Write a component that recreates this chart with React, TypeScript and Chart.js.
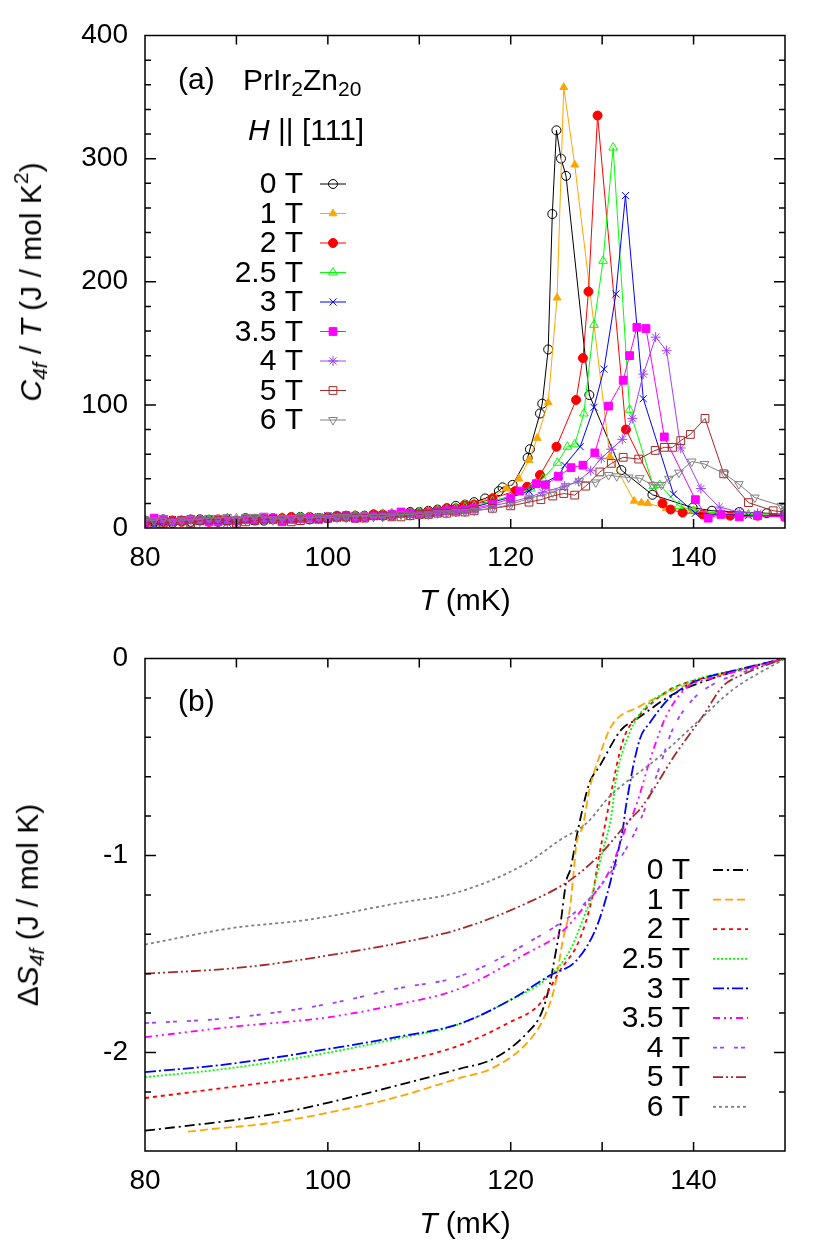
import { useEffect, useRef } from 'react';
import type { CSSProperties } from 'react';
import { Chart, registerables } from 'chart.js';
import { drawPoint } from 'chart.js/helpers';

Chart.register(...registerables);

const FONT = '"Liberation Sans", Arial, Helvetica, sans-serif';
const TICK_FS = 28;
const TEXT_FS = 30;

// field labels and colours shared by both panels
const fieldLabels = ['0 T', '1 T', '2 T', '2.5 T', '3 T', '3.5 T', '4 T', '5 T', '6 T'];
const fieldColors = ['#000000', '#ffa500', '#ff0000', '#00ff00', '#0000ff', '#ff00ff', '#a040ff', '#a52a2a', '#808080'];

// (a) C4f/T, low-temperature tail sampled every 1 mK (80..116 mK)
const lowT = [80, 81, 82, 83, 84, 85, 86, 87, 88, 89, 90, 91, 92, 93, 94, 95, 96, 97, 98, 99, 100, 101, 102, 103, 104, 105, 106, 107, 108, 109, 110, 111, 112, 113, 114, 115, 116];
const low0T = [6, 5, 7, 4, 6, 5, 7, 6, 5, 7, 6, 8, 7, 6, 8, 7, 8, 9, 7, 8, 8, 9, 10, 9, 10, 11, 10, 11, 12, 13, 13, 14, 15, 16, 18, 19, 21];
const low1T = [5, 6, 4, 7, 5, 6, 6, 7, 5, 6, 7, 6, 8, 7, 7, 9, 8, 7, 9, 8, 9, 8, 9, 11, 10, 10, 12, 11, 12, 12, 13, 14, 15, 16, 17, 19, 20];
const low2T = [4, 6, 5, 6, 5, 7, 6, 5, 7, 6, 6, 7, 6, 8, 7, 8, 9, 8, 9, 8, 9, 10, 9, 10, 9, 11, 11, 10, 12, 12, 12, 13, 14, 16, 16, 18, 19];
const low25T = [6, 5, 6, 5, 6, 6, 5, 7, 5, 8, 8, 6, 7, 8, 8, 7, 7, 9, 9, 8, 9, 8, 9, 10, 10, 10, 11, 12, 11, 12, 13, 13, 14, 15, 16, 17, 18];
const low3T = [5, 3, 5, 7, 6, 5, 6, 7, 6, 4, 5, 7, 8, 6, 7, 7, 8, 7, 8, 9, 10, 8, 9, 10, 9, 10, 10, 11, 12, 11, 12, 12, 13, 14, 15, 16, 17];
const low35T = [4, 8, 7, 5, 6, 7, 6, 5, 5, 6, 6, 7, 7, 8, 8, 6, 7, 8, 8, 7, 8, 9, 10, 8, 9, 10, 10, 11, 13, 12, 11, 12, 13, 14, 14, 15, 16];
const low4T = [6, 5, 4, 5, 6, 7, 5, 6, 6, 4, 5, 6, 7, 6, 6, 7, 8, 7, 7, 8, 9, 8, 8, 9, 10, 9, 10, 11, 11, 10, 12, 12, 12, 13, 14, 14, 15];
const low5T = [5, 2, 4, 5, 6, 4, 6, 7, 7, 6, 4, 5, 6, 7, 7, 5, 5, 6, 7, 8, 8, 9, 9, 8, 8, 10, 10, 9, 9, 10, 11, 11, 12, 12, 13, 13, 14];
const low6T = [7, 6, 8, 5, 6, 7, 7, 8, 8, 9, 7, 9, 9, 10, 7, 8, 8, 9, 8, 9, 8, 9, 9, 10, 10, 9, 9, 10, 11, 11, 10, 11, 12, 12, 13, 13, 14];

// (a) transition region  [T (mK), C/T (J/mol K^2)]
const peak0T = [[117.2, 24], [118.7, 30], [119.1, 33], [120.2, 35], [121.85, 57], [122.1, 64], [123.2, 93], [123.45, 101], [124.1, 145], [124.55, 255], [125.0, 323], [125.5, 300], [126.05, 286], [128.6, 108], [132.1, 47], [135.5, 27], [139.9, 16.5], [142, 14], [145, 13], [148, 12], [150, 11]];
const peak1T = [[118, 25], [119.5, 32], [120.9, 40], [122.0, 55], [122.9, 73], [124.1, 102], [125.07, 187], [125.8, 358], [127.0, 295], [130.85, 58], [133.5, 22], [134.3, 20.5], [135.0, 20], [137, 16], [140, 14], [143, 12], [146, 11], [150, 10]];
const peak2T = [[118, 24], [120.5, 30], [121.8, 33.5], [123.2, 43], [125.0, 66], [127.15, 104], [127.9, 138], [128.5, 192], [129.5, 335], [132.6, 80], [136.6, 20], [137.5, 15], [138.8, 12.5], [141, 11], [144, 10], [147, 10], [150, 9]];
const peak25T = [[118, 22], [120, 26], [122.2, 32], [123.5, 40], [125.1, 53], [126.2, 66], [127.0, 68], [128.0, 93], [129.1, 165], [130.1, 217], [131.2, 309], [133.0, 96], [135.6, 34], [136.3, 35], [138.4, 18], [140, 14], [143, 12], [146, 11], [150, 10]];
const peak3T = [[118, 21], [120, 25], [122, 30], [123.5, 36], [125.3, 43], [125.9, 51], [127.6, 66], [129.1, 98], [130.2, 129], [131.5, 190], [132.55, 270], [134.5, 105], [137.8, 27.5], [140.2, 12], [143, 11], [146, 10], [150, 10]];
const peak35T = [[118, 19], [120, 24], [121, 30], [122.8, 36], [123.8, 35], [125.2, 42], [126.6, 49], [127.9, 51], [129.2, 61], [130.7, 99], [132.3, 120], [133.0, 140], [133.8, 163], [134.8, 162], [136.8, 74], [140.2, 23], [141.6, 8], [143, 11], [145, 9], [147, 10], [150, 9]];
const peak4T = [[118, 18], [120, 21], [122, 25], [123.5, 29], [125.9, 34], [127.4, 38], [128.75, 46.5], [129.9, 56.6], [131.0, 64], [132.2, 72], [133.3, 89], [134.5, 125], [135.85, 155], [137.05, 144], [138.6, 65], [140.8, 32], [142.8, 17], [145, 13], [147, 12], [150, 11]];
const peak5T = [[118, 16], [120, 18], [122, 21], [123.3, 23], [124.6, 26], [125.8, 28], [127.0, 26.7], [128.2, 34], [129.75, 45.5], [131.0, 52.5], [132.3, 57.4], [134.0, 56], [135.8, 63], [136.8, 65.5], [137.7, 65.5], [138.6, 71], [139.65, 76], [141.25, 89], [143.3, 44], [146.0, 20.6], [148.7, 14], [150, 13]];
const peak6T = [[118, 16], [120, 19], [122, 24], [124.6, 29], [126.0, 34], [127.5, 38], [129.3, 37], [130.7, 43], [131.6, 42], [132.9, 41], [134.1, 40.5], [135.5, 35], [136.5, 35], [137.3, 40], [138.4, 45], [139.8, 54], [141.2, 52], [143.4, 44], [144.95, 35.6], [146.7, 24.7], [149.6, 18], [150, 17]];

const lowSeries = [low0T, low1T, low2T, low25T, low3T, low35T, low4T, low5T, low6T];
const peakSeries = [peak0T, peak1T, peak2T, peak25T, peak3T, peak35T, peak4T, peak5T, peak6T];

// (b) entropy difference  [T (mK), dS (J/mol K)]
const ds0T = [[80, -2.397], [85, -2.37], [89.3, -2.346], [95, -2.305], [100.2, -2.253], [107.5, -2.168], [114.4, -2.083], [118.1, -2.032], [121.7, -1.905], [123.4, -1.795], [124.3, -1.65], [124.6, -1.574], [125.4, -1.362], [126.1, -1.125], [126.5, -1.074], [127.4, -0.86], [128.6, -0.633], [129.7, -0.548], [132.1, -0.361], [133.7, -0.31], [137.7, -0.183], [141.7, -0.107], [145, -0.06], [150, 0]];
const ds1T = [[84.7, -2.402], [88, -2.385], [92.9, -2.363], [100.2, -2.304], [107.5, -2.227], [114.1, -2.134], [118.1, -2.077], [121.7, -1.956], [123.5, -1.837], [124.8, -1.668], [125.7, -1.43], [126.5, -1.26], [126.8, -1.125], [127.2, -0.938], [127.9, -0.85], [128.6, -0.667], [129.7, -0.497], [131.0, -0.344], [134.1, -0.243], [136.3, -0.192], [140, -0.12], [145, -0.06], [150, 0]];
const ds2T = [[80, -2.231], [89.3, -2.176], [100.2, -2.108], [107.5, -2.049], [114.4, -1.964], [119.9, -1.846], [123.2, -1.752], [125.4, -1.583], [127.5, -1.43], [129.0, -1.193], [129.4, -1.074], [130.5, -0.8], [131.9, -0.48], [132.6, -0.378], [134.5, -0.268], [137.4, -0.158], [141, -0.1], [145, -0.055], [150, 0]];
const ds25T = [[80, -2.125], [89.3, -2.08], [100.2, -1.999], [107.5, -1.93], [114.4, -1.856], [119.9, -1.735], [124.3, -1.61], [126.5, -1.48], [128.3, -1.277], [128.6, -1.243], [130.1, -0.97], [131.0, -0.8], [131.5, -0.616], [133.0, -0.378], [134.8, -0.243], [136.8, -0.175], [140, -0.11], [145, -0.055], [150, 0]];
const ds3T = [[80, -2.1], [89.3, -2.058], [100.2, -1.981], [107.5, -1.922], [114.4, -1.854], [119.9, -1.735], [124.3, -1.608], [127.2, -1.532], [129.5, -1.35], [131.2, -1.08], [132.3, -0.853], [132.6, -0.752], [134.1, -0.412], [135.2, -0.327], [137.4, -0.2], [140, -0.12], [145, -0.055], [150, 0]];
const ds35T = [[80, -1.922], [89.3, -1.871], [100.2, -1.82], [107.5, -1.757], [114.4, -1.676], [121.7, -1.498], [125.4, -1.396], [128.6, -1.226], [131.0, -1.06], [132.8, -0.836], [133.4, -0.786], [135.6, -0.463], [137.0, -0.293], [139.2, -0.149], [142, -0.1], [146, -0.05], [150, 0]];
const ds4T = [[80, -1.851], [89.3, -1.825], [100.2, -1.752], [107.5, -1.676], [114.4, -1.613], [121.7, -1.447], [127.9, -1.252], [131.9, -1.02], [134.1, -0.83], [136.3, -0.548], [137.7, -0.361], [139.9, -0.209], [142.1, -0.132], [146, -0.06], [150, 0]];
const ds5T = [[80, -1.6], [89.3, -1.574], [94.8, -1.545], [100.2, -1.506], [107.5, -1.447], [114.4, -1.374], [121.7, -1.243], [126.5, -1.125], [129.7, -0.998], [133.4, -0.8], [134.1, -0.768], [138.1, -0.48], [141.0, -0.293], [143.2, -0.141], [145.4, -0.081], [150, 0]];
const ds6T = [[80, -1.452], [89.3, -1.37], [98.0, -1.325], [107.5, -1.243], [114.4, -1.184], [121.7, -1.04], [125.4, -0.921], [128.3, -0.836], [130.8, -0.701], [136.3, -0.497], [140.3, -0.327], [144.3, -0.158], [150, 0]];
const dsSeries = [ds0T, ds1T, ds2T, ds25T, ds3T, ds35T, ds4T, ds5T, ds6T];

// marker styles for panel (a)
const markerStyles = [
  { pointStyle: 'circle', radius: 4.5, filled: false, rotation: 0 },
  { pointStyle: 'triangle', radius: 4.5, filled: true, rotation: 0 },
  { pointStyle: 'circle', radius: 4.5, filled: true, rotation: 0 },
  { pointStyle: 'triangle', radius: 5, filled: false, rotation: 0 },
  { pointStyle: 'crossRot', radius: 5, filled: false, rotation: 0 },
  { pointStyle: 'rect', radius: 5.5, filled: true, rotation: 0 },
  { pointStyle: 'star', radius: 5, filled: false, rotation: 0 },
  { pointStyle: 'rect', radius: 5.5, filled: false, rotation: 0 },
  { pointStyle: 'triangle', radius: 5, filled: false, rotation: 180 },
];

// dash patterns for panel (b)
const dashPatterns = [[10, 4, 2, 4], [8, 4], [4, 4], [2, 2], [11, 3, 2, 3], [7, 4, 2, 4, 2, 4], [4, 3, 4, 10], [10, 3, 2, 3, 2, 3], [3, 3]];

const W = 830;
const H = 623;

const tickFont = { family: FONT, size: TICK_FS, lineHeight: 1 };

const isInt = (v: number) => Math.abs(v - Math.round(v)) < 1e-6;

function makeScales(yMin: number, yMax: number, yStep: number, isMajorY: (v: number) => boolean) {
  return {
    x: {
      type: 'linear',
      min: 80,
      max: 150,
      grid: { display: false, drawTicks: false },
      border: { display: false },
      ticks: {
        stepSize: 10,
        autoSkip: false,
        maxRotation: 0,
        padding: 16,
        color: '#000',
        font: tickFont,
        callback: (v: number) => (Math.round(v) % 20 === 0 ? String(Math.round(v)) : ''),
      },
      afterFit: (s: any) => {
        s.height = 90;
      },
    },
    y: {
      type: 'linear',
      min: yMin,
      max: yMax,
      grid: { display: false, drawTicks: false },
      border: { display: false },
      ticks: {
        stepSize: yStep,
        autoSkip: false,
        padding: 17,
        color: '#000',
        font: tickFont,
        callback: (v: number) => (isMajorY(v) ? String(Math.round(v)) : ''),
      },
      afterFit: (s: any) => {
        s.width = 145;
      },
    },
  };
}

function framePlugin(isMajorY: (v: number) => boolean) {
  return {
    id: 'frame',
    afterDatasetsDraw(chart: any) {
      const { ctx, chartArea: a } = chart;
      const xs = chart.scales.x;
      const ys = chart.scales.y;
      ctx.save();
      ctx.strokeStyle = '#000';
      ctx.lineWidth = 1.5;
      ctx.beginPath();
      xs.ticks.forEach((t: any) => {
        const px = xs.getPixelForValue(t.value);
        if (px <= a.left + 1 || px >= a.right - 1) return;
        ctx.moveTo(px, a.bottom);
        ctx.lineTo(px, a.bottom - 9);
        ctx.moveTo(px, a.top);
        ctx.lineTo(px, a.top + 9);
      });
      ys.ticks.forEach((t: any) => {
        const py = ys.getPixelForValue(t.value);
        if (py <= a.top + 1 || py >= a.bottom - 1) return;
        const len = isMajorY(t.value) ? 11 : 6;
        ctx.moveTo(a.left, py);
        ctx.lineTo(a.left + len, py);
        ctx.moveTo(a.right, py);
        ctx.lineTo(a.right - len, py);
      });
      ctx.stroke();
      ctx.strokeRect(a.left, a.top, a.right - a.left, a.bottom - a.top);
      ctx.restore();
    },
  };
}

const markerLegend = {
  id: 'markerLegend',
  afterDatasetsDraw(chart: any) {
    const { ctx } = chart;
    ctx.save();
    ctx.font = `${TEXT_FS}px ${FONT}`;
    ctx.textAlign = 'right';
    ctx.textBaseline = 'middle';
    chart.data.datasets.forEach((ds: any, i: number) => {
      const y = 184 + 29.5 * i;
      ctx.fillStyle = '#000';
      ctx.fillText(ds.label, 303, y + 1);
      ctx.strokeStyle = ds.borderColor;
      ctx.lineWidth = 1;
      ctx.beginPath();
      ctx.moveTo(320, y);
      ctx.lineTo(346, y);
      ctx.stroke();
      ctx.fillStyle = ds.pointBackgroundColor;
      ctx.strokeStyle = ds.pointBorderColor;
      ctx.lineWidth = ds.pointBorderWidth;
      drawPoint(ctx, { pointStyle: ds.pointStyle, rotation: ds.pointRotation, radius: ds.pointRadius, borderWidth: ds.pointBorderWidth }, 333, y);
    });
    ctx.restore();
  },
};

const lineLegend = {
  id: 'lineLegend',
  afterDatasetsDraw(chart: any) {
    const { ctx } = chart;
    ctx.save();
    ctx.font = `${TEXT_FS}px ${FONT}`;
    ctx.textAlign = 'right';
    ctx.textBaseline = 'middle';
    chart.data.datasets.forEach((ds: any, i: number) => {
      const y = 247 + 29.6 * i;
      ctx.fillStyle = '#000';
      ctx.fillText(ds.label, 690, y + 1);
      ctx.strokeStyle = ds.borderColor;
      ctx.lineWidth = ds.borderWidth;
      ctx.setLineDash(ds.borderDash);
      ctx.beginPath();
      ctx.moveTo(713, y);
      ctx.lineTo(748, y);
      ctx.stroke();
    });
    ctx.restore();
  },
};

const layoutPadding = { left: 0, right: W - 785, top: 35.5, bottom: H - 528 - 90 };

function HeatCapacityChart() {
  const ref = useRef<HTMLCanvasElement>(null);
  useEffect(() => {
    const isMajor = (v: number) => Math.round(v) % 100 === 0;
    const chart = new Chart(ref.current!, {
      type: 'line',
      data: {
        datasets: peakSeries.map((peak, i) => {
          const m = markerStyles[i];
          const pts = lowT.map((t, k) => [t, lowSeries[i][k]]).concat(peak);
          return {
            label: fieldLabels[i],
            data: pts.map(([x, y]) => ({ x, y })),
            borderColor: fieldColors[i],
            borderWidth: 1,
            pointStyle: m.pointStyle,
            pointRadius: m.radius,
            pointRotation: m.rotation,
            pointBorderColor: fieldColors[i],
            pointBackgroundColor: m.filled ? fieldColors[i] : 'rgba(255,255,255,0)',
            pointBorderWidth: 1,
            order: peakSeries.length - i,
          };
        }),
      },
      options: {
        responsive: false,
        animation: false,
        layout: { padding: layoutPadding },
        plugins: { legend: { display: false }, tooltip: { enabled: false } },
        scales: makeScales(0, 400, 20, isMajor),
      } as any,
      plugins: [framePlugin(isMajor), markerLegend],
    } as any);
    return () => chart.destroy();
  }, []);
  return <canvas ref={ref} width={W} height={H} style={{ position: 'absolute', left: 0, top: 0 }} />;
}

function EntropyChart() {
  const ref = useRef<HTMLCanvasElement>(null);
  useEffect(() => {
    const chart = new Chart(ref.current!, {
      type: 'line',
      data: {
        datasets: dsSeries.map((pts, i) => ({
          label: fieldLabels[i],
          data: pts.map(([x, y]) => ({ x, y })),
          borderColor: fieldColors[i],
          borderWidth: 1.8,
          borderDash: dashPatterns[i],
          pointRadius: 0,
          cubicInterpolationMode: 'monotone',
          order: dsSeries.length - i,
        })),
      },
      options: {
        responsive: false,
        animation: false,
        layout: { padding: layoutPadding },
        plugins: { legend: { display: false }, tooltip: { enabled: false } },
        scales: makeScales(-2.5, 0, 0.2, isInt),
      } as any,
      plugins: [framePlugin(isInt), lineLegend],
    } as any);
    return () => chart.destroy();
  }, []);
  return <canvas ref={ref} width={W} height={H} style={{ position: 'absolute', left: 0, top: H }} />;
}

const txt: CSSProperties = {
  position: 'absolute',
  fontFamily: FONT,
  fontSize: TEXT_FS,
  lineHeight: 1,
  whiteSpace: 'nowrap',
  color: '#000',
};
const sub: CSSProperties = { fontSize: '0.7em', verticalAlign: '-0.3em' };
const sup: CSSProperties = { fontSize: '0.7em', verticalAlign: '0.6em' };

export default function App() {
  return (
    <div style={{ position: 'absolute', left: 0, top: 0, width: W, height: 2 * H, background: '#fff', overflow: 'hidden' }}>
      <HeatCapacityChart />
      <EntropyChart />
      <div style={{ ...txt, left: 30, top: 282, transform: 'translate(-50%, -50%) rotate(-90deg)' }}>
        <i>C</i>
        <span style={sub}>
          <i>4f</i>
        </span>{' '}
        / <i>T</i> (J / mol K<span style={sup}>2</span>)
      </div>
      <div style={{ ...txt, left: 30, top: 905, transform: 'translate(-50%, -50%) rotate(-90deg)' }}>
        Δ<i>S</i>
        <span style={sub}>
          <i>4f</i>
        </span>{' '}
        (J / mol K)
      </div>
      <div style={{ ...txt, left: 465, top: 600, transform: 'translate(-50%, -50%)' }}>
        <i>T</i> (mK)
      </div>
      <div style={{ ...txt, left: 465, top: 1223, transform: 'translate(-50%, -50%)' }}>
        <i>T</i> (mK)
      </div>
      <div style={{ ...txt, left: 178, top: 79, transform: 'translateY(-50%)' }}>(a)</div>
      <div style={{ ...txt, left: 178, top: 701, transform: 'translateY(-50%)' }}>(b)</div>
      <div style={{ ...txt, left: 243, top: 82, transform: 'translateY(-50%)' }}>
        PrIr<span style={sub}>2</span>Zn<span style={sub}>20</span>
      </div>
      <div style={{ ...txt, left: 248, top: 130, transform: 'translateY(-50%)' }}>
        <i>H</i> || [111]
      </div>
    </div>
  );
}
